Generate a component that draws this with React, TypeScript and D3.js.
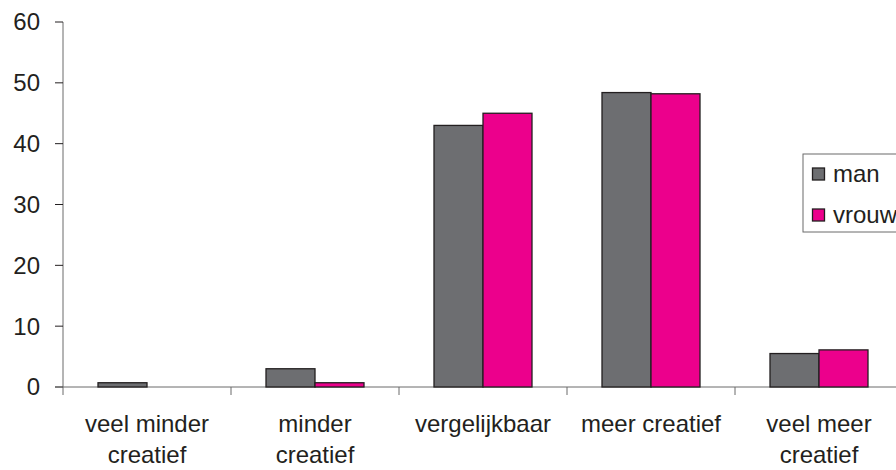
import React from "react";
import * as d3 from "d3";

const categories = [
  ["veel minder", "creatief"],
  ["minder", "creatief"],
  ["vergelijkbaar"],
  ["meer creatief"],
  ["veel meer", "creatief"],
];
const seriesNames = ["man", "vrouw"];
const manValues = [0.7, 3.0, 43.0, 48.4, 5.5];
const vrouwValues = [0, 0.7, 45.0, 48.2, 6.1];
const yTicks = [0, 10, 20, 30, 40, 50, 60];

const colors = ["#6d6e71", "#ec008c"];
const W = 896;
const H = 470;
const margin = { left: 63, right: -7, top: 22, bottom: 83 };

export default function App() {
  const innerRight = W - margin.right;
  const x = d3
    .scaleBand<number>()
    .domain(categories.map((_, i) => i))
    .range([margin.left, innerRight])
    .paddingInner(0)
    .paddingOuter(0);
  const y = d3.scaleLinear().domain([0, 60]).range([H - margin.bottom, margin.top]);
  const groupFrac = 98 / 168;
  const bw = x.bandwidth();
  const gx = d3
    .scaleBand<number>()
    .domain([0, 1])
    .range([(bw * (1 - groupFrac)) / 2, (bw * (1 + groupFrac)) / 2]);
  const series = [manValues, vrouwValues];
  const font = "'Liberation Sans', Arial, sans-serif";
  const y0 = y(0);

  return (
    <svg
      width={W}
      height={H}
      style={{ position: "absolute", left: 0, top: 0, background: "#fff" }}
      fontFamily={font}
    >
      {/* y axis */}
      <line x1={margin.left} x2={margin.left} y1={y(60)} y2={y0 + 8} stroke="#6b6b6b" strokeWidth={1} />
      {yTicks.map((t) => (
        <g key={t}>
          <line x1={margin.left - 8} x2={margin.left} y1={y(t)} y2={y(t)} stroke="#231f20" strokeWidth={1} />
          <text x={40} y={y(t)} dy="0.35em" textAnchor="end" fontSize={24} fill="#231f20">
            {t}
          </text>
        </g>
      ))}
      {/* x axis */}
      <line x1={margin.left - 8} x2={innerRight} y1={y0} y2={y0} stroke="#6b6b6b" strokeWidth={1} />
      {categories.map((_, i) => (
        <line
          key={i}
          x1={(x(i) as number) + bw}
          x2={(x(i) as number) + bw}
          y1={y0}
          y2={y0 + 8}
          stroke="#6b6b6b"
          strokeWidth={1}
        />
      ))}
      {/* bars */}
      {series.map((vals, s) =>
        vals.map((v, i) =>
          v > 0 ? (
            <rect
              key={`${s}-${i}`}
              x={(x(i) as number) + (gx(s) as number)}
              y={y(v)}
              width={gx.bandwidth()}
              height={y0 - y(v)}
              fill={colors[s]}
              stroke="#231f20"
              strokeWidth={1.3}
            />
          ) : null
        )
      )}
      {/* category labels */}
      {categories.map((lines, i) =>
        lines.map((ln, j) => (
          <text
            key={`${i}-${j}`}
            x={(x(i) as number) + bw / 2}
            y={432 + j * 31}
            textAnchor="middle"
            fontSize={24}
            fill="#231f20"
          >
            {ln}
          </text>
        ))
      )}
      {/* legend */}
      <rect x={803} y={154} width={120} height={78} fill="#fff" stroke="#6b6b6b" strokeWidth={1} />
      {seriesNames.map((n, s) => (
        <g key={n}>
          <rect x={812.5} y={168 + s * 41} width={12} height={12} fill={colors[s]} stroke="#231f20" strokeWidth={1.3} />
          <text x={833} y={174 + s * 41} dy="0.35em" fontSize={24} fill="#231f20">
            {n}
          </text>
        </g>
      ))}
    </svg>
  );
}
